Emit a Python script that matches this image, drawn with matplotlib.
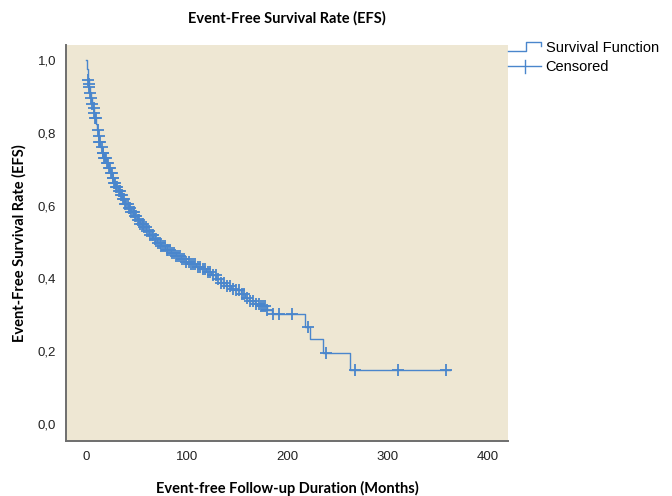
import numpy as np
import matplotlib
matplotlib.use("Agg")
import matplotlib.pyplot as plt
from matplotlib.legend_handler import HandlerBase
from matplotlib.lines import Line2D

# Kaplan-Meier steps: event time (months) -> survival after it
step_times = [0.0, 1.0, 1.3, 1.6, 1.9, 2.4, 3.0, 4.0, 5.0, 6.0, 7.0, 8.0, 9.0,
              10.0, 11.0, 12.0, 13.0, 14.0, 16.0, 18.0, 20.0, 22.0, 24.0, 26.0,
              28.0, 30.0, 32.0, 34.0, 36.0, 39.0, 42.0, 45.0, 48.0, 51.0, 54.0,
              57.0, 60.0, 63.0, 67.0, 71.0, 75.0, 79.0, 84.0, 89.0, 94.0, 99.0,
              104.0, 109.0, 114.0, 119.0, 124.0, 129.0, 134.0, 139.0, 144.0,
              149.0, 154.0, 158.0, 162.0, 168.0, 174.0, 180.0, 185.0, 218.0,
              223.0, 236.0, 263.0, 362.0]
step_surv = [1.0, 0.99, 0.975, 0.96, 0.945, 0.935, 0.925, 0.91, 0.895, 0.88,
             0.868, 0.855, 0.842, 0.825, 0.808, 0.792, 0.775, 0.76, 0.745, 0.73,
             0.716, 0.702, 0.69, 0.676, 0.663, 0.651, 0.64, 0.628, 0.617, 0.605,
             0.593, 0.582, 0.57, 0.56, 0.55, 0.54, 0.53, 0.52, 0.508, 0.497,
             0.488, 0.479, 0.47, 0.461, 0.453, 0.445, 0.439, 0.432, 0.426, 0.418,
             0.408, 0.398, 0.388, 0.378, 0.372, 0.368, 0.358, 0.345, 0.337, 0.33,
             0.323, 0.314, 0.303, 0.267, 0.233, 0.195, 0.148, 0.148]

# censored observations (months)
censor_times = [1.9, 2.6, 3.2, 4.1, 5.0, 6.0, 7.4, 8.2, 9.2, 9.6, 11.8, 12.4,
                13.1, 13.6, 15.5, 16.4, 17.3, 18.1, 19.0, 19.9, 20.7, 21.6,
                22.5, 23.4, 24.4, 25.3, 26.3, 27.2, 28.1, 29.1, 30.2, 31.2,
                32.3, 33.3, 34.4, 35.5, 36.6, 37.8, 39.0, 40.2, 41.4, 42.5,
                43.7, 45.0, 46.2, 47.4, 48.7, 50.0, 51.3, 52.6, 54.0, 55.3,
                56.7, 58.0, 59.4, 60.8, 62.3, 63.8, 65.3, 66.8, 68.4, 70.0,
                71.6, 73.3, 75.0, 76.7, 78.4, 80.2, 82.0, 83.8, 85.7, 87.6,
                89.5, 91.5, 93.5, 95.5, 97.6, 99.8, 102.0, 104.2, 106.5, 108.8,
                111.2, 113.6, 116.0, 118.5, 121.0, 123.6, 126.2, 128.9, 131.6,
                134.4, 137.2, 140.0, 143.0, 146.0, 149.5, 152.0, 155.0, 157.5,
                160.0, 163.0, 166.0, 169.5, 172.0, 174.5, 176.5, 178.5, 180.5,
                186.0, 191.5, 204.5, 221.0, 239.0, 268.0, 310.0, 358.0]

x_ticks = [0, 100, 200, 300, 400]
y_ticks = [0.0, 0.2, 0.4, 0.6, 0.8, 1.0]

LINE = "#4A86CC"
PANEL = "#EEE7D3"


def surv_at(t):
    idx = np.searchsorted(step_times, t, side="right") - 1
    return np.array(step_surv)[idx]


class StepHandler(HandlerBase):
    # little step glyph like the SPSS legend
    def create_artists(self, legend, orig_handle, xdescent, ydescent,
                       width, height, fontsize, trans):
        x0 = -xdescent
        y0 = -ydescent
        xs = [x0, x0 + width * 0.55, x0 + width * 0.55, x0 + width, x0 + width]
        ys = [y0 + height * 0.15, y0 + height * 0.15, y0 + height * 0.95,
              y0 + height * 0.95, y0 + height * 0.6]
        ln = Line2D(xs, ys, color=LINE, lw=1.0, transform=trans)
        return [ln]


class CensorHandler(HandlerBase):
    def create_artists(self, legend, orig_handle, xdescent, ydescent,
                       width, height, fontsize, trans):
        x0 = -xdescent
        y0 = -ydescent
        ln = Line2D([x0, x0 + width], [y0 + height * 0.5] * 2, color=LINE,
                    lw=1.0, transform=trans)
        tick = Line2D([x0 + width * 0.5] * 2, [y0 - height * 0.15, y0 + height * 1.05],
                      color=LINE, lw=1.0, transform=trans)
        return [ln, tick]


fig = plt.figure(figsize=(6.72, 4.96), dpi=100)
ax = fig.add_axes([0.0982, 0.111, 0.658, 0.798])
ax.set_facecolor(PANEL)

ax.step(step_times, step_surv, where="post", color=LINE, lw=1.0)
ax.plot(censor_times, surv_at(censor_times), ls="none", marker="+",
        color=LINE, markersize=8, markeredgewidth=1.3)

ax.set_xlim(-20, 420)
ax.set_ylim(-0.047, 1.041)
ax.set_xticks(x_ticks)
ax.set_yticks(y_ticks)
ax.set_yticklabels([f"{v:.1f}".replace(".", ",") for v in y_ticks])
ax.tick_params(length=0, labelsize=9.5, pad=7, labelcolor="#222222")
for lab in ax.get_xticklabels() + ax.get_yticklabels():
    lab.set_fontfamily("Liberation Sans")

for s in ["top", "right"]:
    ax.spines[s].set_visible(False)
for s in ["left", "bottom"]:
    ax.spines[s].set_color("#6e6e6e")
    ax.spines[s].set_linewidth(1.4)

ax.set_title("Event-Free Survival Rate (EFS)", fontfamily="Lato",
             fontweight="bold", fontsize=10.5, pad=16)
ax.set_xlabel("Event-free Follow-up Duration (Months)", fontfamily="Lato",
              fontweight="bold", fontsize=10.5, labelpad=13)
ax.set_ylabel("Event-Free Survival Rate (EFS)", fontfamily="Lato",
              fontweight="bold", fontsize=10.5, labelpad=8)

h1 = Line2D([], [], color=LINE)
h2 = Line2D([], [], color=LINE, marker="+")
leg = fig.legend([h1, h2], ["Survival Function", "Censored"],
                 loc="upper left", bbox_to_anchor=(0.748, 0.929),
                 frameon=False, handlelength=2.2, handletextpad=0.35,
                 labelspacing=0.35, borderaxespad=0,
                 prop={"family": "Liberation Sans", "size": 10.5},
                 handler_map={h1: StepHandler(), h2: CensorHandler()})

fig.savefig("out.png", dpi=100)
